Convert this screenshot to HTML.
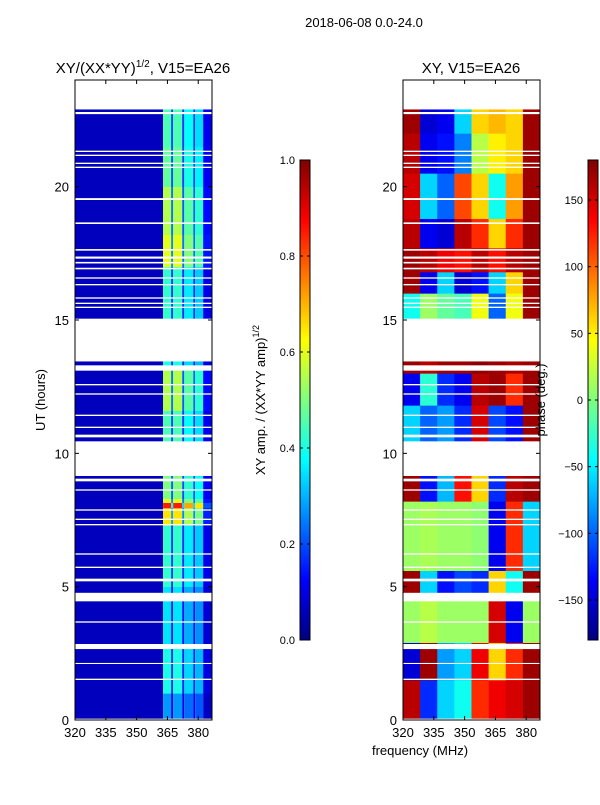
<!DOCTYPE html>
<html><head><meta charset="utf-8"><style>
body{margin:0;background:#fff;}
svg text{font-family:"Liberation Sans",sans-serif;fill:#000;}
</style></head><body>
<svg id="fig" width="600" height="800" xmlns="http://www.w3.org/2000/svg">
<defs><linearGradient id="jetg" x1="0" y1="1" x2="0" y2="0">
<stop offset="0" stop-color="#00007f"/><stop offset="0.125" stop-color="#0000ff"/><stop offset="0.375" stop-color="#00ffff"/><stop offset="0.5" stop-color="#7fff7f"/><stop offset="0.625" stop-color="#ffff00"/><stop offset="0.875" stop-color="#ff0000"/><stop offset="1" stop-color="#7f0000"/>
</linearGradient></defs>
<text x="364" y="27" font-size="13" text-anchor="middle">2018-06-08 0.0-24.0</text>
<text x="143" y="73" font-size="15" text-anchor="middle">XY/(XX*YY)<tspan font-size="10" dy="-6">1/2</tspan><tspan dy="6">, V15=EA26</tspan></text>
<text x="471" y="73" font-size="15" text-anchor="middle">XY, V15=EA26</text>
<text x="420" y="755" font-size="13" text-anchor="middle">frequency (MHz)</text>
<text transform="translate(45,400) rotate(-90)" font-size="13" text-anchor="middle">UT (hours)</text>
<text transform="translate(265,400) rotate(-90)" font-size="13" text-anchor="middle">XY amp. / (XX*YY amp)<tspan font-size="9" dy="-6">1/2</tspan></text>
<g id="left"></g>
<g id="right"></g>
<g id="axes"></g>
<text transform="translate(545,400) rotate(-90)" font-size="13" text-anchor="middle">phase (deg.)</text>
<g id="cb"></g>
</svg>
<script>
// ---- data ----
const hourRange=[0,24];
const freqRange=[320,386.7];
const xTicks=[320,335,350,365,380];
const yTicks=[0,5,10,15,20];
const ampTicks=[0.0,0.2,0.4,0.6,0.8,1.0];
const phaseTicks=[-150,-100,-50,0,50,100,150];
// left amplitude: frequency stripes
const ampFreqEdges=[320,362.9,366.8,367.8,372.2,373.2,377.6,378.5,382.4,386.7];
const ampFreqVals=[0.06,0.5,0.22,0.5,0.2,0.42,0.2,0.38,0.12];
// time bands: start, end, gain
const ampBandStart=[0,1.0,2.7,5.0,7.3,7.95,8.15,8.3,10.4,11.6,13.3,15.0,17.0,18.2,20.0,21.5];
const ampBandEnd=[1.0,2.7,5.0,7.3,7.95,8.15,8.3,9.15,11.6,13.3,13.45,17.0,18.2,20.0,21.5,22.9];
const ampBandGain=[0.55,0.8,0.7,0.85,1.3,1.7,1.2,1.0,0.9,1.1,0.8,0.85,1.2,1.1,0.95,0.9];
// white gaps (hours)
const gapStart=[22.9,22.72,21.3,21.15,20.85,20.7,19.5,18.6,17.6,17.3,17.12,16.9,16.55,16.3,15.8,15.6,15.45,14.6,13.45,13.1,12.55,12.2,11.4,10.95,10.6,9.15,8.95,8.6,7.85,7.5,7.3,6.2,5.7,5.2,4.45,3.65,2.66,2.1,1.5,0];
const gapEnd=[24,22.8,21.35,21.2,20.9,20.75,19.57,18.66,17.66,17.38,17.18,16.96,16.6,16.35,15.85,15.65,15.5,15.05,14.55,13.3,12.6,12.25,11.45,11.0,10.7,10.45,9.05,8.65,7.9,7.55,7.35,6.25,5.75,5.3,4.77,3.7,2.85,2.14,1.55,0.05];
// right phase: 8 frequency bins x time bands
const phaseBandStart=[0,1.5,2.9,4.7,5.6,8.2,10.45,11.8,13.0,15.0,16.0,16.8,17.7,18.8,20.5,22.0];
const phaseBandEnd=[1.5,2.9,4.7,5.6,8.2,9.15,11.8,13.0,13.45,16.0,16.8,17.7,18.8,20.5,22.0,22.9];
const phaseRows=[
 [160,-120,-60,-40,120,140,150,170],
 [-150,170,-80,-60,140,60,120,170],
 [10,20,10,10,10,150,-140,10],
 [170,-60,-130,-110,-120,60,-40,170],
 [10,15,10,10,5,-140,120,-60],
 [170,-130,-70,130,60,-120,160,170],
 [-60,-100,-80,-120,150,-110,-130,170],
 [-140,-30,-120,-140,160,170,120,170],
 [170,160,170,170,175,170,165,170],
 [-40,10,-10,-20,40,-100,40,170],
 [170,-140,-60,-150,-130,-60,60,170],
 [170,160,140,130,160,130,160,170],
 [160,-140,-150,160,120,60,120,170],
 [150,-60,-100,110,60,-40,80,170],
 [160,-140,-130,-90,20,50,60,170],
 [170,-150,-140,-60,60,70,60,170]
];
// ---- drawing ----
const NS="http://www.w3.org/2000/svg";
const L={x0:75,x1:212,y0:80,y1:720}, R={x0:403,x1:540,y0:80,y1:720};
function xs(p,f){return p.x0+(f-freqRange[0])/(freqRange[1]-freqRange[0])*(p.x1-p.x0);}
function ys(p,h){return p.y1-(h-hourRange[0])/(hourRange[1]-hourRange[0])*(p.y1-p.y0);}
function jet(v){v=Math.max(0,Math.min(1,v));
 const r=Math.max(0,Math.min(1,1.5-Math.abs(4*v-3))),g=Math.max(0,Math.min(1,1.5-Math.abs(4*v-2))),b=Math.max(0,Math.min(1,1.5-Math.abs(4*v-1)));
 return `rgb(${Math.round(r*255)},${Math.round(g*255)},${Math.round(b*255)})`;}
function rect(par,x,y,w,h,fill){const r=document.createElementNS(NS,'rect');
 r.setAttribute('x',x);r.setAttribute('y',y);r.setAttribute('width',w);r.setAttribute('height',h);r.setAttribute('fill',fill);par.appendChild(r);return r;}
const gl=document.getElementById('left');
for(let b=0;b<ampBandStart.length;b++){
 for(let c=0;c<ampFreqVals.length;c++){
  const x=xs(L,ampFreqEdges[c]),x2=xs(L,ampFreqEdges[c+1]);
  const y=ys(L,ampBandEnd[b]),y2=ys(L,ampBandStart[b]);
  const r=rect(gl,x,y,x2-x,y2-y+0.3,jet(c===0?0.06:ampFreqVals[c]*ampBandGain[b]));
  
  
 }}
const gr=document.getElementById('right');
for(let b=0;b<phaseBandStart.length;b++){
 const row=phaseRows[b];
 for(let c=0;c<row.length;c++){
  const f0=freqRange[0]+c*(freqRange[1]-freqRange[0])/row.length,f1=freqRange[0]+(c+1)*(freqRange[1]-freqRange[0])/row.length;
  const x=xs(R,f0),x2=xs(R,f1),y=ys(R,phaseBandEnd[b]),y2=ys(R,phaseBandStart[b]);
  const r=rect(gr,x,y,x2-x+0.3,y2-y+0.3,jet((row[c]+180)/360));
  
  
 }}
[L,R].forEach((p,i)=>{const par=i?gr:gl;
 for(let k=0;k<gapStart.length;k++){const y=ys(p,gapEnd[k]),y2=ys(p,gapStart[k]);
  const r=rect(par,p.x0,y,p.x1-p.x0,y2-y,'#fff');
  
  }});
const ax=document.getElementById('axes');
function line(par,x1,y1,x2,y2){const l=document.createElementNS(NS,'line');l.setAttribute('x1',x1);l.setAttribute('y1',y1);l.setAttribute('x2',x2);l.setAttribute('y2',y2);l.setAttribute('stroke','#000');par.appendChild(l);}
function txt(par,x,y,s,anchor,name){const t=document.createElementNS(NS,'text');t.setAttribute('x',x);t.setAttribute('y',y);t.setAttribute('font-size','13');t.setAttribute('text-anchor',anchor);t.textContent=s;
 
 
 par.appendChild(t);}
[L,R].forEach(p=>{
 const f=rect(ax,p.x0,p.y0,p.x1-p.x0,p.y1-p.y0,'none');f.setAttribute('stroke','#000');
 xTicks.forEach(v=>{const x=xs(p,v);line(ax,x,p.y1,x,p.y1-4);line(ax,x,p.y0,x,p.y0+4);txt(ax,x,737,String(v),'middle','x-tick-label');});
 yTicks.forEach(v=>{const y=ys(p,v);line(ax,p.x0,y,p.x0+4,y);line(ax,p.x1,y,p.x1-4,y);txt(ax,p.x0-6,y+5,String(v),'end','y-tick-label');});
});
const cb=document.getElementById('cb');
function colorbar(x0,vals,lo,hi,name){
 const g=rect(cb,x0,160,10,480,'url(#jetg)');g.setAttribute('stroke','#000');
 vals.forEach(v=>{const y=640-(v-lo)/(hi-lo)*480;
  line(cb,x0,y,x0+3,y);line(cb,x0+7,y,x0+10,y);
  const t=document.createElementNS(NS,'text');
  
  
  t.setAttribute('x',x0-5);t.setAttribute('y',y+4);t.setAttribute('font-size','11');
  t.setAttribute('text-anchor','end');
  t.textContent=name==='amp-tick-label'?v.toFixed(1):(v<0?'\u2212'+(-v):String(v));cb.appendChild(t);});
}
colorbar(300,ampTicks,0,1,'amp-tick-label');
colorbar(588,phaseTicks,-180,180,'phase-tick-label');
</script>
</body></html>
